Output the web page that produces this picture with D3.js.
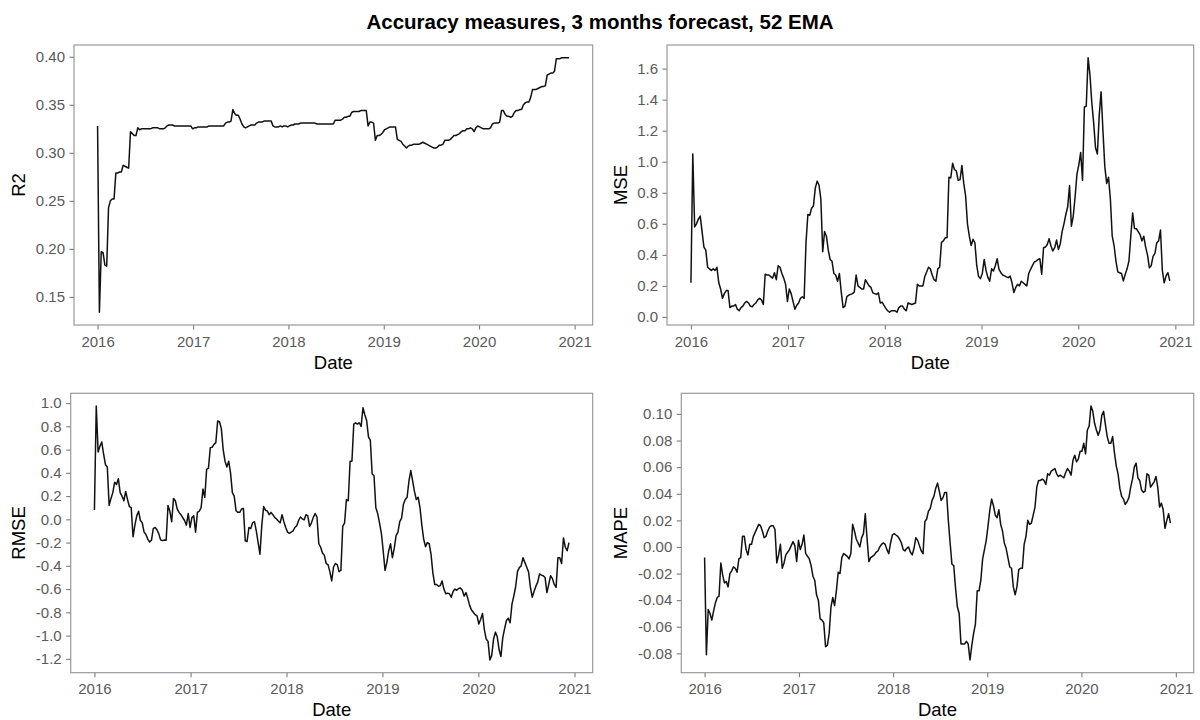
<!DOCTYPE html>
<html>
<head>
<meta charset="utf-8">
<script src="https://cdn.jsdelivr.net/npm/d3@7"></script>
<style>
  html, body { margin: 0; padding: 0; background: #ffffff; }
  svg { display: block; font-family: "Liberation Sans", Arial, Helvetica, sans-serif; }
</style>
</head>
<body>
<svg id="chart" width="1200" height="720"></svg>
<script>
// Weekly observations; the first week starts on this date
const startDate = "2016-01-01";
const yearTicks = [2016, 2017, 2018, 2019, 2020, 2021];

const r2 = [
  0.328, 0.134, 0.197, 0.196, 0.183, 0.182, 0.243, 0.250, 0.252, 0.252, 0.279, 0.279, 0.280, 0.280, 0.287, 0.286, 0.285, 0.284, 0.322, 0.320, 0.318, 0.318, 0.326, 0.324,
  0.325, 0.325, 0.325, 0.325, 0.325, 0.325, 0.326, 0.326, 0.326, 0.326, 0.325, 0.325, 0.325, 0.326, 0.328, 0.329, 0.329, 0.329, 0.328, 0.328, 0.328, 0.328, 0.328, 0.328, 0.328, 0.328, 0.328, 0.328,
  0.325, 0.326, 0.326, 0.327, 0.327, 0.327, 0.327, 0.327, 0.327, 0.328, 0.328, 0.328, 0.328, 0.328, 0.328, 0.328, 0.328, 0.328, 0.331, 0.332, 0.332, 0.333, 0.345, 0.341, 0.339, 0.339, 0.335, 0.330,
  0.327, 0.326, 0.327, 0.328, 0.329, 0.329, 0.329, 0.331, 0.332, 0.332, 0.332, 0.333, 0.333, 0.333, 0.333, 0.333, 0.328, 0.327, 0.327, 0.327, 0.328, 0.327, 0.328, 0.328, 0.327,
  0.328, 0.329, 0.329, 0.330, 0.330, 0.330, 0.331, 0.331, 0.331, 0.331, 0.331, 0.331, 0.331, 0.331, 0.331, 0.330, 0.330, 0.330, 0.330, 0.330, 0.330, 0.330, 0.330, 0.330, 0.330,
  0.334, 0.334, 0.334, 0.334, 0.335, 0.337, 0.337, 0.338, 0.338, 0.342, 0.343, 0.343, 0.343, 0.343, 0.344, 0.344, 0.344, 0.344, 0.328, 0.332, 0.332, 0.331, 0.313, 0.318, 0.318, 0.319, 0.321,
  0.324, 0.325, 0.326, 0.327, 0.327, 0.327, 0.327, 0.314, 0.313, 0.312, 0.309, 0.307, 0.305, 0.307, 0.308, 0.308, 0.309, 0.309, 0.309, 0.309, 0.310, 0.311, 0.310,
  0.309, 0.308, 0.307, 0.306, 0.305, 0.305, 0.306, 0.308, 0.308, 0.309, 0.313, 0.313, 0.313, 0.314, 0.316, 0.318, 0.318, 0.319, 0.320, 0.322,
  0.323, 0.323, 0.325, 0.325, 0.326, 0.325, 0.322, 0.326, 0.328,
  0.327, 0.326, 0.325, 0.325, 0.325, 0.325, 0.326, 0.330, 0.331, 0.331, 0.331, 0.332,
  0.344, 0.344, 0.340, 0.338, 0.338, 0.337, 0.338, 0.342, 0.344, 0.344, 0.345, 0.345, 0.350, 0.352, 0.353, 0.353,
  0.358, 0.366, 0.366, 0.366, 0.367, 0.368, 0.369, 0.369, 0.370, 0.381, 0.382, 0.383, 0.383, 0.385,
  0.398, 0.398, 0.398, 0.399, 0.399, 0.399, 0.399, 0.399
];

const mse = [
  0.22, 1.05, 0.58, 0.60, 0.63, 0.65, 0.55, 0.45, 0.43, 0.32, 0.31, 0.30, 0.31, 0.30, 0.32, 0.22, 0.18, 0.12, 0.15, 0.17,
  0.17, 0.06, 0.07, 0.07, 0.08, 0.05, 0.04, 0.06, 0.07, 0.09, 0.10, 0.09, 0.07, 0.065, 0.08, 0.09, 0.11, 0.12, 0.11, 0.08,
  0.275, 0.27, 0.27, 0.26, 0.25, 0.285, 0.24, 0.33, 0.32, 0.28, 0.25, 0.21,
  0.10, 0.18, 0.15, 0.10, 0.05, 0.075, 0.09, 0.12, 0.13, 0.12, 0.48, 0.66, 0.655, 0.70, 0.715, 0.83, 0.875, 0.85, 0.76, 0.42,
  0.55, 0.52, 0.43, 0.37, 0.36, 0.28, 0.27, 0.23, 0.28, 0.16, 0.06, 0.07, 0.13, 0.14, 0.145, 0.15, 0.16, 0.27, 0.20, 0.19,
  0.18, 0.18, 0.24, 0.22, 0.20, 0.19, 0.155, 0.15, 0.145, 0.155, 0.09, 0.095, 0.075,
  0.055, 0.04, 0.03, 0.04, 0.04, 0.04, 0.03, 0.06, 0.07, 0.07, 0.05, 0.04, 0.09, 0.085, 0.08, 0.085, 0.09, 0.21, 0.20, 0.20,
  0.20, 0.26, 0.29, 0.32, 0.31, 0.27, 0.24, 0.23, 0.31, 0.32, 0.48, 0.49, 0.51, 0.51, 0.90, 0.896, 0.99, 0.95, 0.94, 0.88,
  0.885, 0.975, 0.86, 0.78, 0.60, 0.52, 0.46, 0.50, 0.478, 0.33, 0.26, 0.247,
  0.28, 0.37, 0.30, 0.255, 0.23, 0.31, 0.296, 0.33, 0.375, 0.307, 0.285, 0.27, 0.264, 0.258, 0.253, 0.264, 0.22, 0.157, 0.19, 0.21,
  0.20, 0.23, 0.22, 0.21, 0.20, 0.28, 0.307, 0.33, 0.354, 0.36, 0.37, 0.375, 0.275, 0.446, 0.45, 0.467, 0.504, 0.457, 0.425, 0.446,
  0.495, 0.435, 0.47, 0.55, 0.60, 0.66, 0.71, 0.847, 0.585, 0.65, 0.774, 0.92,
  0.98, 1.06, 0.88, 1.353, 1.357, 1.67, 1.56, 1.38, 1.25, 1.09, 1.05, 1.30, 1.45, 1.20, 0.97, 0.86, 0.90, 0.76, 0.52, 0.46,
  0.36, 0.29, 0.285, 0.28, 0.232, 0.275, 0.31, 0.36, 0.52, 0.67, 0.57, 0.568, 0.55, 0.53, 0.49, 0.52, 0.45, 0.40, 0.317, 0.33,
  0.39, 0.41, 0.478, 0.49, 0.56, 0.30, 0.22, 0.264, 0.285, 0.232
];

const rmse = [
  0.08, 0.975, 0.58, 0.63, 0.665, 0.56, 0.47, 0.45, 0.12, 0.18, 0.23, 0.32, 0.30, 0.35, 0.23, 0.20, 0.16, 0.24, 0.17, 0.11,
  0.10, -0.15, -0.05, 0.03, 0.07, -0.01, -0.03, -0.11, -0.13, -0.17, -0.195, -0.18, -0.08, -0.07, -0.09, -0.125, -0.177, -0.183, -0.178, -0.18,
  0.12, 0.07, -0.02, 0.18, 0.16, 0.09, 0.06, 0.04, 0.015, -0.01, -0.05, 0.05,
  -0.07, 0.015, 0.03, -0.11, 0.06, 0.07, 0.10, 0.26, 0.19, 0.43, 0.44, 0.617, 0.62, 0.645, 0.66, 0.846, 0.84, 0.78, 0.60, 0.50,
  0.45, 0.50, 0.40, 0.23, 0.20, 0.074, 0.06, 0.06, 0.089, 0.094, -0.185, -0.19, -0.07, -0.08, -0.03, -0.02, -0.10, -0.20, -0.30, -0.05,
  0.11, 0.08, 0.07, 0.04, 0.06, 0.04, 0.017, 0.003, -0.015, -0.03, 0.04, -0.02, -0.07,
  -0.11, -0.12, -0.11, -0.10, -0.07, -0.055, -0.01, 0.02, 0.005, -0.005, 0.04, 0.03, -0.06, -0.03, 0.017, 0.05, 0.02, -0.21, -0.24, -0.29,
  -0.31, -0.38, -0.39, -0.45, -0.53, -0.41, -0.38, -0.39, -0.45, -0.44, -0.06, -0.03, 0.17, 0.16, 0.50, 0.50, 0.82, 0.83, 0.82, 0.83,
  0.80, 0.96, 0.90, 0.85, 0.71, 0.68, 0.39, 0.375, 0.10, 0.05, -0.03, -0.12,
  -0.27, -0.44, -0.37, -0.27, -0.21, -0.33, -0.25, -0.14, -0.11, -0.02, 0.01, 0.13, 0.17, 0.19, 0.33, 0.42, 0.33, 0.24, 0.17, 0.19,
  0.10, -0.05, -0.17, -0.235, -0.20, -0.21, -0.30, -0.46, -0.56, -0.56, -0.575, -0.57, -0.53, -0.60, -0.64, -0.635, -0.64, -0.67, -0.62, -0.60,
  -0.61, -0.595, -0.59, -0.61, -0.66, -0.63, -0.68, -0.74, -0.78, -0.80, -0.82, -0.83,
  -0.90, -0.86, -0.81, -0.95, -1.03, -1.05, -1.21, -1.17, -1.03, -0.97, -1.01, -1.12, -1.18, -1.02, -0.94, -0.87, -0.85, -0.89, -0.73, -0.66,
  -0.58, -0.45, -0.415, -0.40, -0.33, -0.37, -0.41, -0.45, -0.58, -0.67, -0.62, -0.575, -0.54, -0.47, -0.48, -0.485, -0.50, -0.63, -0.56, -0.485,
  -0.51, -0.56, -0.585, -0.33, -0.33, -0.38, -0.16, -0.24, -0.27, -0.20
];

const mape = [
  -0.008, -0.081, -0.047, -0.050, -0.055, -0.048, -0.042, -0.038, -0.037, -0.012, -0.021, -0.027, -0.026, -0.030, -0.020, -0.018, -0.015, -0.016, -0.019, -0.009,
  -0.008, 0.008, 0.008, -0.002, -0.006, 0.002, 0.002, 0.008, 0.011, 0.014, 0.017, 0.016, 0.012, 0.007, 0.008, 0.012, 0.015, 0.016, 0.016, 0.013,
  -0.012, -0.006, 0.002, -0.016, -0.012, -0.006, -0.004, -0.002, 0.001, 0.004, 0.001, -0.011,
  0.005, -0.002, 0.002, 0.009, -0.005, -0.007, -0.009, -0.014, -0.022, -0.025, -0.036, -0.040, -0.054, -0.055, -0.057, -0.075, -0.074, -0.065, -0.045, -0.038,
  -0.044, -0.033, -0.019, -0.020, -0.008, -0.005, -0.006, -0.007, -0.009, -0.005, 0.017, 0.012, 0.006, 0.003, 0.000, 0.007, 0.010, 0.025, 0.006, -0.011,
  -0.008, -0.007, -0.006, -0.004, -0.003, 0.000, 0.002, 0.003, 0.002, -0.002, -0.005, 0.003, 0.009,
  0.010, 0.009, 0.008, 0.006, 0.003, -0.002, -0.003, -0.001, 0.000, -0.004, -0.006, -0.001, 0.007, 0.005, 0.001, -0.003, -0.005, 0.019, 0.021, 0.027,
  0.029, 0.035, 0.038, 0.044, 0.048, 0.042, 0.035, 0.037, 0.041, 0.041, 0.020, 0.003, -0.013, -0.014, -0.031, -0.045, -0.050, -0.073, -0.073, -0.073,
  -0.071, -0.073, -0.085, -0.074, -0.065, -0.058, -0.033, -0.033, -0.025, -0.009, -0.002, 0.005,
  0.016, 0.028, 0.036, 0.031, 0.024, 0.022, 0.028, 0.017, 0.012, 0.003, -0.001, -0.008, -0.015, -0.016, -0.030, -0.036, -0.030, -0.017, -0.016, -0.016,
  0.002, 0.008, 0.020, 0.017, 0.018, 0.024, 0.030, 0.045, 0.050, 0.050, 0.051, 0.050, 0.047, 0.055, 0.054, 0.057, 0.058, 0.059, 0.055, 0.053,
  0.054, 0.053, 0.052, 0.056, 0.059, 0.057, 0.054, 0.065, 0.069, 0.064, 0.066, 0.072,
  0.072, 0.078, 0.070, 0.088, 0.091, 0.106, 0.102, 0.093, 0.088, 0.084, 0.088, 0.099, 0.102, 0.092, 0.083, 0.078, 0.078, 0.083, 0.071, 0.061,
  0.055, 0.044, 0.038, 0.036, 0.032, 0.034, 0.037, 0.045, 0.051, 0.060, 0.063, 0.052, 0.050, 0.043, 0.041, 0.042, 0.055, 0.054, 0.045, 0.047,
  0.049, 0.053, 0.045, 0.030, 0.033, 0.028, 0.014, 0.020, 0.025, 0.018
];

// Axis break values for each measure
const r2Ticks   = [0.15, 0.20, 0.25, 0.30, 0.35, 0.40];
const mseTicks  = [0.0, 0.2, 0.4, 0.6, 0.8, 1.0, 1.2, 1.4, 1.6];
const rmseTicks = [-1.2, -1.0, -0.8, -0.6, -0.4, -0.2, 0.0, 0.2, 0.4, 0.6, 0.8, 1.0];
const mapeTicks = [-0.08, -0.06, -0.04, -0.02, 0.00, 0.02, 0.04, 0.06, 0.08, 0.10];

const chartTitle = "Accuracy measures, 3 months forecast, 52 EMA";

// ---- layout ----
const panels = [
  { label: "R2",   values: r2,   ticks: r2Ticks,   fmt: ".2f", box: [74, 45, 592.7, 325],        titleX: 25 },
  { label: "MSE",  values: mse,  ticks: mseTicks,  fmt: ".1f", box: [667, 45, 1193.7, 325],      titleX: 627 },
  { label: "RMSE", values: rmse, ticks: rmseTicks, fmt: ".1f", box: [70.7, 393.3, 592.7, 672.7], titleX: 25 },
  { label: "MAPE", values: mape, ticks: mapeTicks, fmt: ".2f", box: [681.3, 393.3, 1193.7, 672.7], titleX: 627 }
];

const borderColor = "#999999";
const tickColor = "#7a7a7a";
const tickTextColor = "#5a5a5a";
const tickLen = 4.5;

// plain hyphen for negative numbers
const loc = d3.formatLocale({ decimal: ".", thousands: ",", grouping: [3], currency: ["", ""], minus: "-" });

const t0 = new Date(startDate + "T00:00:00Z");
const dates = d3.range(r2.length).map(i => d3.utcDay.offset(t0, 7 * i));
const yearDates = yearTicks.map(y => new Date(Date.UTC(y, 0, 1)));

const svg = d3.select("#chart");

svg.append("text")
  .attr("x", 600)
  .attr("y", 29)
  .attr("text-anchor", "middle")
  .attr("font-size", 20.5)
  .attr("font-weight", "bold")
  .attr("fill", "#000")
  .text(chartTitle);

// expand a numeric extent by 5% on each side
function expand(ext) {
  const pad = (ext[1] - ext[0]) * 0.05;
  return [ext[0] - pad, ext[1] + pad];
}

panels.forEach(p => {
  const [x0, y0, x1, y1] = p.box;

  const tExt = d3.extent(dates, d => +d);
  const xDom = expand(tExt).map(v => new Date(v));
  const x = d3.scaleUtc().domain(xDom).range([x0, x1]);
  const y = d3.scaleLinear().domain(expand(d3.extent(p.values))).range([y1, y0]);

  const g = svg.append("g");

  // x axis
  const xAxis = g.append("g")
    .attr("transform", `translate(0,${y1})`)
    .call(d3.axisBottom(x)
      .tickValues(yearDates)
      .tickFormat(d3.utcFormat("%Y"))
      .tickSize(tickLen)
      .tickPadding(6.4));
  // y axis
  const yAxis = g.append("g")
    .attr("transform", `translate(${x0},0)`)
    .call(d3.axisLeft(y)
      .tickValues(p.ticks)
      .tickFormat(loc.format(p.fmt))
      .tickSize(tickLen)
      .tickPadding(4.5));

  [xAxis, yAxis].forEach(a => {
    a.select(".domain").remove();
    a.selectAll(".tick line").attr("stroke", tickColor).attr("stroke-width", 1.1);
    a.selectAll(".tick text")
      .attr("fill", tickTextColor)
      .attr("font-size", 15)
      .attr("font-family", "\"Liberation Sans\", Arial, Helvetica, sans-serif");
  });

  // panel border
  g.append("rect")
    .attr("x", x0)
    .attr("y", y0)
    .attr("width", x1 - x0)
    .attr("height", y1 - y0)
    .attr("fill", "none")
    .attr("stroke", borderColor)
    .attr("stroke-width", 1.2);

  // series line
  const line = d3.line()
    .x((d, i) => x(dates[i]))
    .y(d => y(d));

  g.append("path")
    .datum(p.values)
    .attr("fill", "none")
    .attr("stroke", "#111")
    .attr("stroke-width", 1.5)
    .attr("stroke-linejoin", "round")
    .attr("d", line);

  // axis titles
  g.append("text")
    .attr("x", (x0 + x1) / 2)
    .attr("y", y1 + 43.5)
    .attr("text-anchor", "middle")
    .attr("font-size", 18.5)
    .attr("fill", "#000")
    .text("Date");

  g.append("text")
    .attr("transform", `translate(${p.titleX},${(y0 + y1) / 2}) rotate(-90)`)
    .attr("text-anchor", "middle")
    .attr("font-size", 18.5)
    .attr("fill", "#000")
    .text(p.label);
});
</script>
</body>
</html>
